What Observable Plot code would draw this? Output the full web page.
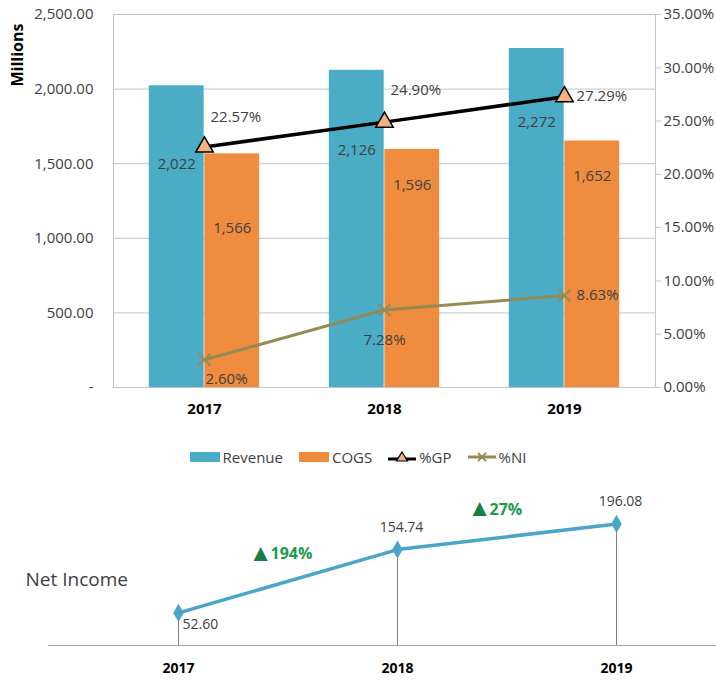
<!DOCTYPE html>
<html><head><meta charset="utf-8">
<script src="https://cdn.jsdelivr.net/npm/d3@7"></script>
<script src="https://cdn.jsdelivr.net/npm/@observablehq/plot@0.6"></script>
<style>
body{margin:0;background:#fff;font-family:"Open Sans",sans-serif;color:#404040;position:relative;}
#legend{height:26px;padding-top:14px;display:flex;justify-content:center;align-items:center;font-size:15px;color:#404040;}
#legend .it{display:flex;align-items:center;margin:0 8px;}
#legend svg{margin-right:3px;}
#ylab{position:absolute;left:17px;top:55px;transform:translate(-50%,-50%) rotate(-90deg);font-weight:bold;font-size:16px;color:#000;white-space:nowrap;}
</style></head><body>
<div id="top"></div><div id="legend"></div><div id="bottom"></div>
<div id="ylab">Millions</div>
<script>
// ---- data ----
const years = ["2017", "2018", "2019"];
const revenue = [2022, 2126, 2272];
const cogs = [1566, 1596, 1652];
const pctGP = [22.57, 24.90, 27.29];
const pctNI = [2.60, 7.28, 8.63];
const netIncome = [52.60, 154.74, 196.08];
const leftTicks = [0, 500, 1000, 1500, 2000, 2500];
const rightTicks = [0, 5, 10, 15, 20, 25, 30, 35];
const seriesNames = ["Revenue", "COGS", "%GP", "%NI"];

// ---- styling ----
const C = {rev: "#4bacc6", cogs: "#f08c3e", gp: "#000000", tri: "#f4b183", ni: "#948a54", niLine: "#4aa5c7", txt: "#404040", grid: "#c4c4c4", green: "#1e9a4a", greenTri: "#17803d"};
const FONT = "'Open Sans', sans-serif";
const K = 2500 / 35; // percent -> left-axis units

const rows = years.map((y, i) => ({year: y, rev: revenue[i], cogs: cogs[i], gp: pctGP[i], ni: pctNI[i], i}));
const W = 716, ML = 113, MR = 61;
const bw = (W - ML - MR) / years.length;
const barW = 55.5;
const fmtC = d3.format(",");

function lbl(key, fmt, i, dx, dy, anchor) {
  return Plot.text(rows.filter(d => d.i === i), {
    x: "year", y: d => (key === "gp" || key === "ni") ? d[key] * K : d[key],
    text: d => fmt(d[key]), dx, dy, textAnchor: anchor || "middle",
    fill: C.txt, fontSize: 15
  });
}
const pf = v => v.toFixed(2) + "%";

const topChart = Plot.plot({
  width: W, height: 430, marginLeft: ML, marginRight: MR, marginTop: 14, marginBottom: 43,
  style: {fontFamily: FONT, fontSize: "15px", color: C.txt, background: "#fff", overflow: "visible"},
  x: {type: "band", domain: years, padding: 0},
  y: {domain: [0, 2500]},
  marks: [
    Plot.gridY(leftTicks, {stroke: C.grid, strokeOpacity: 1}),
    Plot.frame({stroke: C.grid}),
    Plot.barY(rows, {x: "year", y: "rev", fill: C.rev, insetLeft: bw / 2 - barW, insetRight: bw / 2}),
    Plot.barY(rows, {x: "year", y: "cogs", fill: C.cogs, insetLeft: bw / 2, insetRight: bw / 2 - barW}),
    Plot.line(rows, {x: "year", y: d => d.gp * K, stroke: C.gp, strokeWidth: 3.5}),
    Plot.dot(rows, {x: "year", y: d => d.gp * K, symbol: "triangle", r: 6.5, fill: C.tri, stroke: "#000", strokeWidth: 1.5}),
    Plot.line(rows, {x: "year", y: d => d.ni * K, stroke: C.ni, strokeWidth: 3}),
    Plot.dot(rows, {x: "year", y: d => d.ni * K, symbol: "times", r: 5.5, stroke: C.ni, strokeWidth: 2}),
    // revenue labels
    lbl("rev", fmtC, 0, -barW / 2, 78),
    lbl("rev", fmtC, 1, -barW / 2, 80),
    lbl("rev", fmtC, 2, -barW / 2, 74),
    // cogs labels
    lbl("cogs", fmtC, 0, barW / 2, 74),
    lbl("cogs", fmtC, 1, barW / 2, 36),
    lbl("cogs", fmtC, 2, barW / 2, 35),
    // %GP labels
    lbl("gp", pf, 0, 6, -30, "start"),
    lbl("gp", pf, 1, 6, -32, "start"),
    lbl("gp", pf, 2, 12, 0, "start"),
    // %NI labels
    lbl("ni", pf, 0, 22, 19),
    lbl("ni", pf, 1, 0, 30),
    lbl("ni", pf, 2, 12, 0, "start"),
    Plot.axisY(leftTicks, {anchor: "left", tickSize: 0, tickPadding: 20, label: null, fill: C.txt, fontSize: 15,
      tickFormat: d => d === 0 ? "-" : d3.format(",.2f")(d)}),
    Plot.axisY(rightTicks.map(p => p * K), {anchor: "right", tickSize: 5, tickPadding: 3, label: null, stroke: C.grid, fill: C.txt, fontSize: 15,
      tickFormat: d => (d / K).toFixed(2) + "%"}),
    Plot.axisX({tickSize: 0, tickPadding: 16, label: null, fontWeight: "bold", fontSize: 15, fill: "#000"})
  ]
});
document.getElementById("top").appendChild(topChart);

// ---- legend ----
const legendSvgs = [
  `<svg width="30" height="12"><rect x="0" y="1" width="30" height="10" fill="${C.rev}"/></svg>`,
  `<svg width="30" height="12"><rect x="0" y="1" width="30" height="10" fill="${C.cogs}"/></svg>`,
  `<svg width="28" height="16"><line x1="0" y1="10" x2="28" y2="10" stroke="#000" stroke-width="3"/><path d="M14,3 L19.5,12 L8.5,12 Z" fill="${C.tri}" stroke="#000" stroke-width="1.2"/></svg>`,
  `<svg width="28" height="16"><line x1="0" y1="8" x2="28" y2="8" stroke="${C.ni}" stroke-width="3"/><path d="M10,4 L18,12 M18,4 L10,12" stroke="${C.ni}" stroke-width="1.8"/></svg>`
];
document.getElementById("legend").innerHTML = seriesNames.map((n, i) => `<span class="it">${legendSvgs[i]}<span>${n}</span></span>`).join("");

// ---- bottom chart ----
const ni = years.map((y, i) => ({year: y, v: netIncome[i]}));
const growth = ni.slice(1).map((d, i) => ({year: d.year, mid: (d.v + ni[i].v) / 2, g: d.v / ni[i].v - 1}));
const f2 = d3.format(".2f");
const bottomChart = Plot.plot({
  width: W, height: 210, marginLeft: 48, marginRight: 0, marginTop: 20, marginBottom: 35,
  style: {fontFamily: FONT, fontSize: "14px", color: C.txt, background: "#fff", overflow: "visible"},
  x: {type: "point", domain: years, padding: 0.525, align: 0.565},
  y: {domain: [0, 250], axis: null},
  marks: [
    Plot.ruleY([0], {stroke: "#a6a6a6", strokeWidth: 1.2}),
    Plot.ruleX(ni, {x: "year", y1: 0, y2: "v", stroke: "#808080"}),
    Plot.line(ni, {x: "year", y: "v", stroke: C.niLine, strokeWidth: 3.5}),
    Plot.dot(ni, {x: "year", y: "v", symbol: "diamond", r: 5.5, fill: C.niLine}),
    Plot.text(ni.slice(0, 1), {x: "year", y: "v", text: d => f2(d.v), dx: 4, dy: 12, textAnchor: "start", fill: C.txt, fontSize: 14}),
    Plot.text(ni.slice(1), {x: "year", y: "v", text: d => f2(d.v), dx: 4, dy: -22, fill: C.txt, fontSize: 14}),
    Plot.text(growth, {x: "year", y: "mid", text: () => "▲", dx: -137, dy: -28, fill: C.greenTri, fontSize: 24}),
    Plot.text(growth, {x: "year", y: "mid", text: d => Math.round(d.g * 100) + "%", dx: -127, dy: -27, textAnchor: "start", fill: C.green, fontWeight: "bold", fontSize: 16}),
    Plot.text(["Net Income"], {frameAnchor: "left", dx: -23, dy: 12, textAnchor: "start", fill: C.txt, fontSize: 19}),
    Plot.axisX({tickSize: 0, tickPadding: 18, label: null, fontWeight: "bold", fontSize: 14, fill: "#000"})
  ]
});
document.getElementById("bottom").appendChild(bottomChart);
</script>
</body></html>
